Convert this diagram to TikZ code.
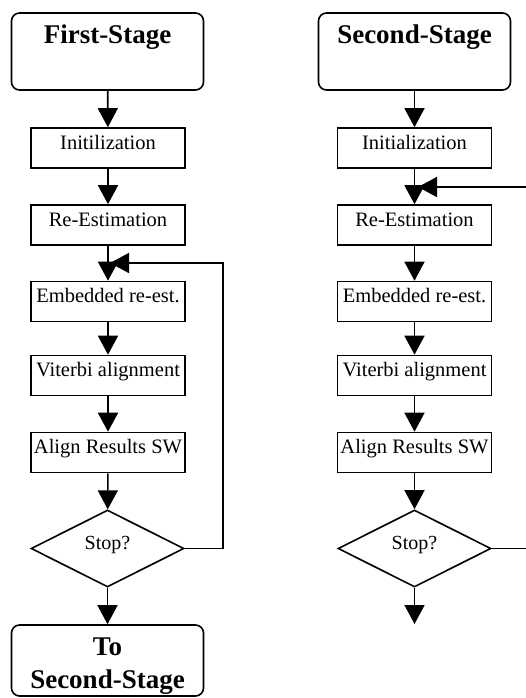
\documentclass[tikz,border=0pt]{standalone}
\usepackage{fontspec}
\setmainfont{Liberation Serif}
\usetikzlibrary{arrows.meta,shapes.geometric}
\begin{document}
\begin{tikzpicture}[x=1pt,y=-1pt,line width=1.6pt,
  stepbox/.style={draw,rectangle,minimum width=154pt,minimum height=40pt,inner sep=0pt,
    font=\fontsize{20.5}{24}\selectfont,text height=0.7em,text depth=0.44em},
  stagebox/.style={draw,rectangle,rounded corners=8pt,minimum width=192pt,minimum height=77pt,inner sep=0pt},
  titletext/.style={font=\fontsize{27}{32}\selectfont\bfseries,inner sep=0pt,anchor=base},
  stopbox/.style={draw,diamond,aspect=2,minimum width=153pt,minimum height=77pt,inner sep=0pt,
    font=\fontsize{20}{24}\selectfont,text height=0.7em,text depth=0.44em},
  arr/.style={-{Triangle[width=20pt,length=19pt]}}]
\useasboundingbox[fill=white] (0,0) rectangle (526,698);

% ---- left column ----
\node[stagebox] (s1) at (107.5,51.5) {};
\node[titletext] (s1t) at (107.5,43.3) {First-Stage};
\node[stepbox] (a1) at (108,148) {Initilization};
\node[stepbox] (b1) at (108,225) {Re-Estimation};
\node[stepbox] (c1) at (108,301.5) {Embedded re-est.};
\node[stepbox] (e1) at (108,375.5) {Viterbi alignment};
\node[stepbox] (f1) at (108,452.5) {Align Results SW};
\node[stopbox] (d1) at (107.5,548.5) {Stop?};
\node[stagebox,minimum height=71pt] (t1) at (107.5,660.5) {};
\node[font=\fontsize{27}{32.5}\selectfont\bfseries,align=center,inner sep=0pt] (t1t) at (107.5,666) {To\\Second-Stage};

\draw[arr] (s1) -- (a1);
\draw[arr] (a1) -- (b1);
\draw[arr] (b1) -- (c1);
\draw[arr] (c1) -- (e1);
\draw[arr] (e1) -- (f1);
\draw[arr] (f1) -- (d1);
\draw[arr] (d1) -- (t1);
\coordinate (fbL) at (223,263);
\coordinate (jL) at (110,263);
\draw[arr] (d1.east) -| (fbL) -- (jL);

% ---- right column ----
\node[stagebox] (s2) at (414.5,51.5) {};
\node[titletext] (s2t) at (414.5,43.3) {Second-Stage};
\node[stepbox] (a2) at (414.5,148) {Initialization};
\node[stepbox] (b2) at (414.5,225) {Re-Estimation};
\node[stepbox] (c2) at (414.5,301.5) {Embedded re-est.};
\node[stepbox] (e2) at (414.5,375.5) {Viterbi alignment};
\node[stepbox] (f2) at (414.5,452.5) {Align Results SW};
\node[stopbox] (d2) at (414.5,548.5) {Stop?};
\coordinate (endR) at (414.5,624);
\coordinate (outR) at (530,548.5);
\coordinate (inR) at (530,187);
\coordinate (jR) at (418,187);

\draw[arr] (s2) -- (a2);
\draw[arr] (a2) -- (b2);
\draw[arr] (b2) -- (c2);
\draw[arr] (c2) -- (e2);
\draw[arr] (e2) -- (f2);
\draw[arr] (f2) -- (d2);
\draw[arr] (d2) -- (endR);
\draw (d2.east) -- (outR);
\draw[arr] (inR) -- (jR);
\end{tikzpicture}
\end{document}
